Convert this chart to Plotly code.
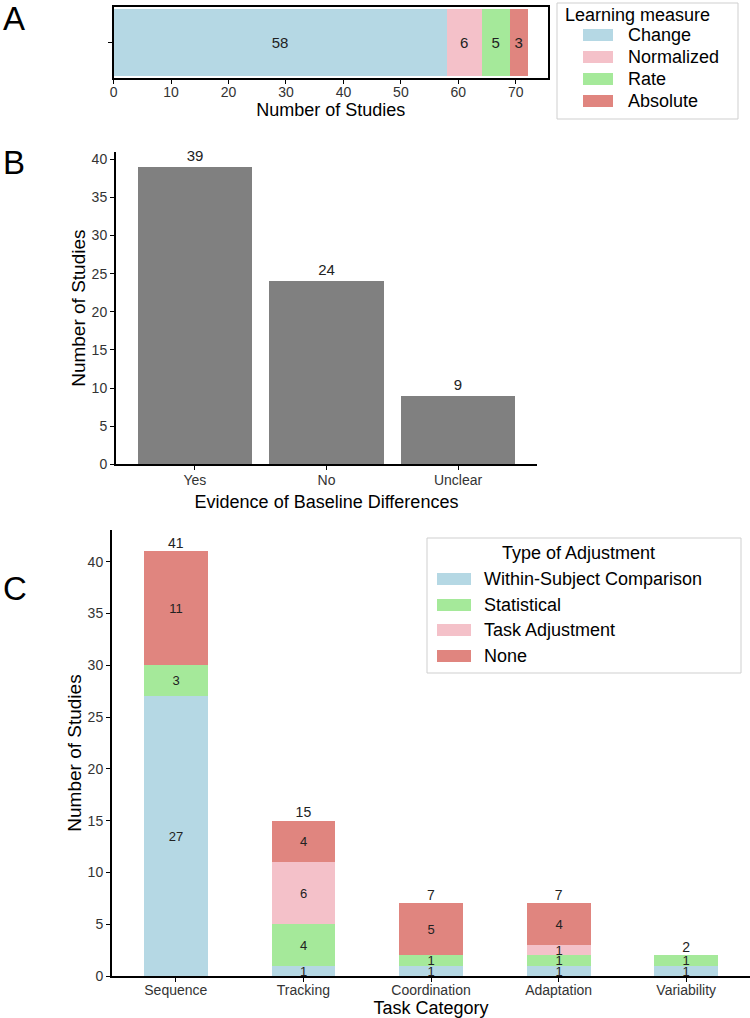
import plotly.graph_objects as go

W, H = 750, 1018
def px(x): return x / W
def py(y): return 1 - y / H

FONT = "Liberation Sans, Arial, sans-serif"

# ---------------- data ----------------
# Panel A
measure_labels = ["Change", "Normalized", "Rate", "Absolute"]
measure_counts = [58, 6, 5, 3]
measure_colors = ["#B5D8E4", "#F4C1C9", "#A5E99A", "#E0857F"]

# Panel B
baseline_cats = ["Yes", "No", "Unclear"]
baseline_counts = [39, 24, 9]

# Panel C
task_cats = ["Sequence", "Tracking", "Coordination", "Adaptation", "Variability"]
adj_within = [27, 1, 1, 1, 1]
adj_statistical = [3, 4, 1, 1, 1]
adj_task = [0, 6, 0, 1, 0]
adj_none = [11, 4, 5, 4, 0]
adj_names = ["Within-Subject Comparison", "Statistical", "Task Adjustment", "None"]
adj_colors = ["#B5D8E4", "#A5E99A", "#F4C1C9", "#E0857F"]

fig = go.Figure()

# ---------------- Panel A ----------------
for lab, cnt, col in zip(measure_labels, measure_counts, measure_colors):
    fig.add_trace(go.Bar(
        x=[cnt], y=[1], orientation="h", name=lab, marker_color=col,
        marker_line_width=0, width=0.9,
        text=[str(cnt)], textposition="inside", insidetextanchor="middle",
        textangle=0, constraintext="none",
        textfont=dict(size=15, color="#222", family=FONT),
        xaxis="x", yaxis="y", showlegend=False))

# ---------------- Panel B ----------------
fig.add_trace(go.Bar(
    x=baseline_cats, y=baseline_counts, marker_color="#808080",
    marker_line_width=0, width=0.87,
    text=[str(v) for v in baseline_counts], textposition="outside",
    textangle=0, constraintext="none", cliponaxis=False,
    textfont=dict(size=15, color="#222", family=FONT),
    xaxis="x2", yaxis="y2", showlegend=False))

# ---------------- Panel C ----------------
series = [adj_within, adj_statistical, adj_task, adj_none]
for name, vals, col in zip(adj_names, series, adj_colors):
    fig.add_trace(go.Bar(
        x=task_cats, y=vals, name=name, marker_color=col,
        marker_line_width=0, width=0.5,
        text=[str(v) if v else "" for v in vals], textposition="inside",
        insidetextanchor="middle", textangle=0, constraintext="none",
        textfont=dict(size=13, color="#222", family=FONT),
        xaxis="x3", yaxis="y3", showlegend=False))

totals = [sum(t) for t in zip(*series)]
fig.add_trace(go.Scatter(
    x=task_cats, y=totals, mode="text", text=[str(t) for t in totals],
    textposition="top center", cliponaxis=False,
    textfont=dict(size=14, color="#222", family=FONT),
    xaxis="x3", yaxis="y3", showlegend=False, hoverinfo="skip"))

axis_common = dict(showgrid=False, zeroline=False, showline=True,
                   linecolor="black", linewidth=2, ticks="outside",
                   tickcolor="black", tickwidth=1, ticklen=4,
                   tickfont=dict(size=14, color="#333", family=FONT))

fig.update_layout(
    width=W, height=H, margin=dict(l=0, r=0, t=0, b=0),
    paper_bgcolor="white", plot_bgcolor="white", template="none",
    barmode="stack", bargap=0, showlegend=False,
    font=dict(family=FONT, color="black"),
    xaxis=dict(domain=[px(113.6), px(548)], anchor="y", range=[0, 75.6],
               tickvals=[0, 10, 20, 30, 40, 50, 60, 70], mirror=True,
               ticklabelstandoff=-4,
               title=dict(text="Number of Studies", standoff=2,
                          font=dict(size=18, family=FONT, color="black")),
               **axis_common),
    yaxis=dict(domain=[py(78), py(7)], anchor="x", range=[0.516, 1.484],
               tickvals=[1], ticktext=[""], mirror=True, **axis_common),
    xaxis2=dict(domain=[px(116), px(537)], anchor="y2", type="category",
                range=[-0.6, 2.6], ticklabelstandoff=-2,
                title=dict(text="Evidence of Baseline Differences", standoff=8,
                           font=dict(size=18, family=FONT, color="black")),
                **axis_common),
    yaxis2=dict(domain=[py(464.3), py(152)], anchor="x2", range=[0, 40.95],
                tickvals=[0, 5, 10, 15, 20, 25, 30, 35, 40],
                title=dict(text="Number of Studies", standoff=1,
                           font=dict(size=19, family=FONT, color="black")),
                **axis_common),
    xaxis3=dict(domain=[px(112), 1.0], anchor="y3", type="category",
                range=[-0.5, 4.5], ticklabelstandoff=-4,
                title=dict(text="Task Category", standoff=4,
                           font=dict(size=18, family=FONT, color="black")),
                **axis_common),
    yaxis3=dict(domain=[py(976), py(530)], anchor="x3", range=[0, 43.05],
                tickvals=[0, 5, 10, 15, 20, 25, 30, 35, 40],
                title=dict(text="Number of Studies", standoff=1,
                           font=dict(size=19, family=FONT, color="black")),
                **axis_common),
)

shapes = []
annotations = []

# panel letters
for letter, (lx, ly) in zip("ABC", [(14, 19), (14, 163), (15, 588)]):
    annotations.append(dict(text=letter, x=px(lx), y=py(ly), xref="paper", yref="paper",
                            showarrow=False, xanchor="center", yanchor="middle",
                            font=dict(size=33, family=FONT, color="black")))

# legend A (manual)
shapes.append(dict(type="rect", xref="paper", yref="paper",
                   x0=px(557), x1=px(738), y0=py(119), y1=py(3),
                   line=dict(color="#cfcfcf", width=1), fillcolor="white", layer="below"))
annotations.append(dict(text="Learning measure", x=px(563), y=py(15), xref="paper", yref="paper",
                        showarrow=False, xanchor="left", yanchor="middle",
                        font=dict(size=18, family=FONT, color="black")))
for i, (lab, col) in enumerate(zip(measure_labels, measure_colors)):
    yc = [35, 57, 79, 101][i]
    shapes.append(dict(type="rect", xref="paper", yref="paper",
                       x0=px(583), x1=px(613), y0=py(yc + 6), y1=py(yc - 6),
                       line=dict(width=0), fillcolor=col))
    annotations.append(dict(text=lab, x=px(626), y=py(yc), xref="paper", yref="paper",
                            showarrow=False, xanchor="left", yanchor="middle",
                            font=dict(size=18, family=FONT, color="black")))

# legend C (manual)
shapes.append(dict(type="rect", xref="paper", yref="paper",
                   x0=px(427), x1=px(741), y0=py(673), y1=py(538),
                   line=dict(color="#cfcfcf", width=1), fillcolor="white", layer="below"))
annotations.append(dict(text="Type of Adjustment", x=px(578), y=py(553), xref="paper", yref="paper",
                        showarrow=False, xanchor="center", yanchor="middle",
                        font=dict(size=18, family=FONT, color="black")))
for i, (lab, col) in enumerate(zip(adj_names, adj_colors)):
    yc = [579, 605, 630, 656][i]
    shapes.append(dict(type="rect", xref="paper", yref="paper",
                       x0=px(437), x1=px(471), y0=py(yc + 6), y1=py(yc - 6),
                       line=dict(width=0), fillcolor=col))
    annotations.append(dict(text=lab, x=px(482), y=py(yc), xref="paper", yref="paper",
                            showarrow=False, xanchor="left", yanchor="middle",
                            font=dict(size=18, family=FONT, color="black")))

fig.update_layout(shapes=shapes, annotations=annotations)
fig.write_html("out.html")
